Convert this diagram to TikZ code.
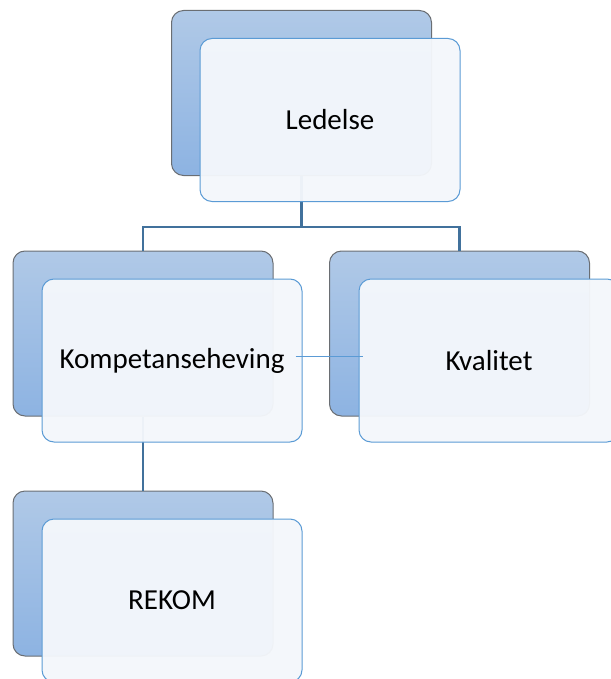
\documentclass[tikz,border=0pt]{standalone}
\usepackage{fontspec}
\setmainfont{Carlito}
\usepackage{tikz}

\definecolor{backtop}{HTML}{B0C9E7}
\definecolor{backbot}{HTML}{8DB3E2}
\definecolor{backline}{HTML}{6A6E73}
\definecolor{frontline}{HTML}{5B9BD5}
\definecolor{frontfill}{HTML}{F4F7FB}
\definecolor{linkline}{HTML}{41719C}

\begin{document}
\begin{tikzpicture}
  [x=1pt,y=-1pt,
   back/.style={rectangle,rounded corners=12pt,minimum width=260pt,minimum height=165pt,
     draw=backline,line width=1pt,top color=backtop,bottom color=backbot},
   front/.style={rectangle,rounded corners=12pt,minimum width=260pt,minimum height=163pt,
     draw=frontline,line width=1pt,fill=frontfill,fill opacity=0.96,text opacity=1,
     font=\fontsize{29}{34}\selectfont},
   link/.style={draw=linkline,line width=2.2pt}]
  \useasboundingbox (0,0) rectangle (610,679);

  \node[back] (ledB)   at (301.5,93)  {};
  \node[back] (kompB)  at (143,333.5) {};
  \node[back] (kvalB)  at (459.5,333.5) {};
  \node[back] (rekomB) at (143,573.5) {};

  \foreach \to in {kompB, kvalB}
    \draw[link] (ledB.south) -- ++(0,51) -| (\to.north);
  \draw[link] (kompB.south) -- (rekomB.north);

  \node[front] (ledF)   at (330,120)   {Ledelse};
  \node[front] (kompF)  at (172,360.5) {Kompetanseheving};
  \node[front] (kvalF)  at (489,360.5) {Kvalitet};
  \node[front] (rekomF) at (172,600.5) {REKOM};

  \draw[frontline,line width=0.8pt] ([xshift=-7pt,yshift=4.5pt]kompF.east) -- ([xshift=4pt,yshift=4.5pt]kvalF.west);

\end{tikzpicture}
\end{document}
